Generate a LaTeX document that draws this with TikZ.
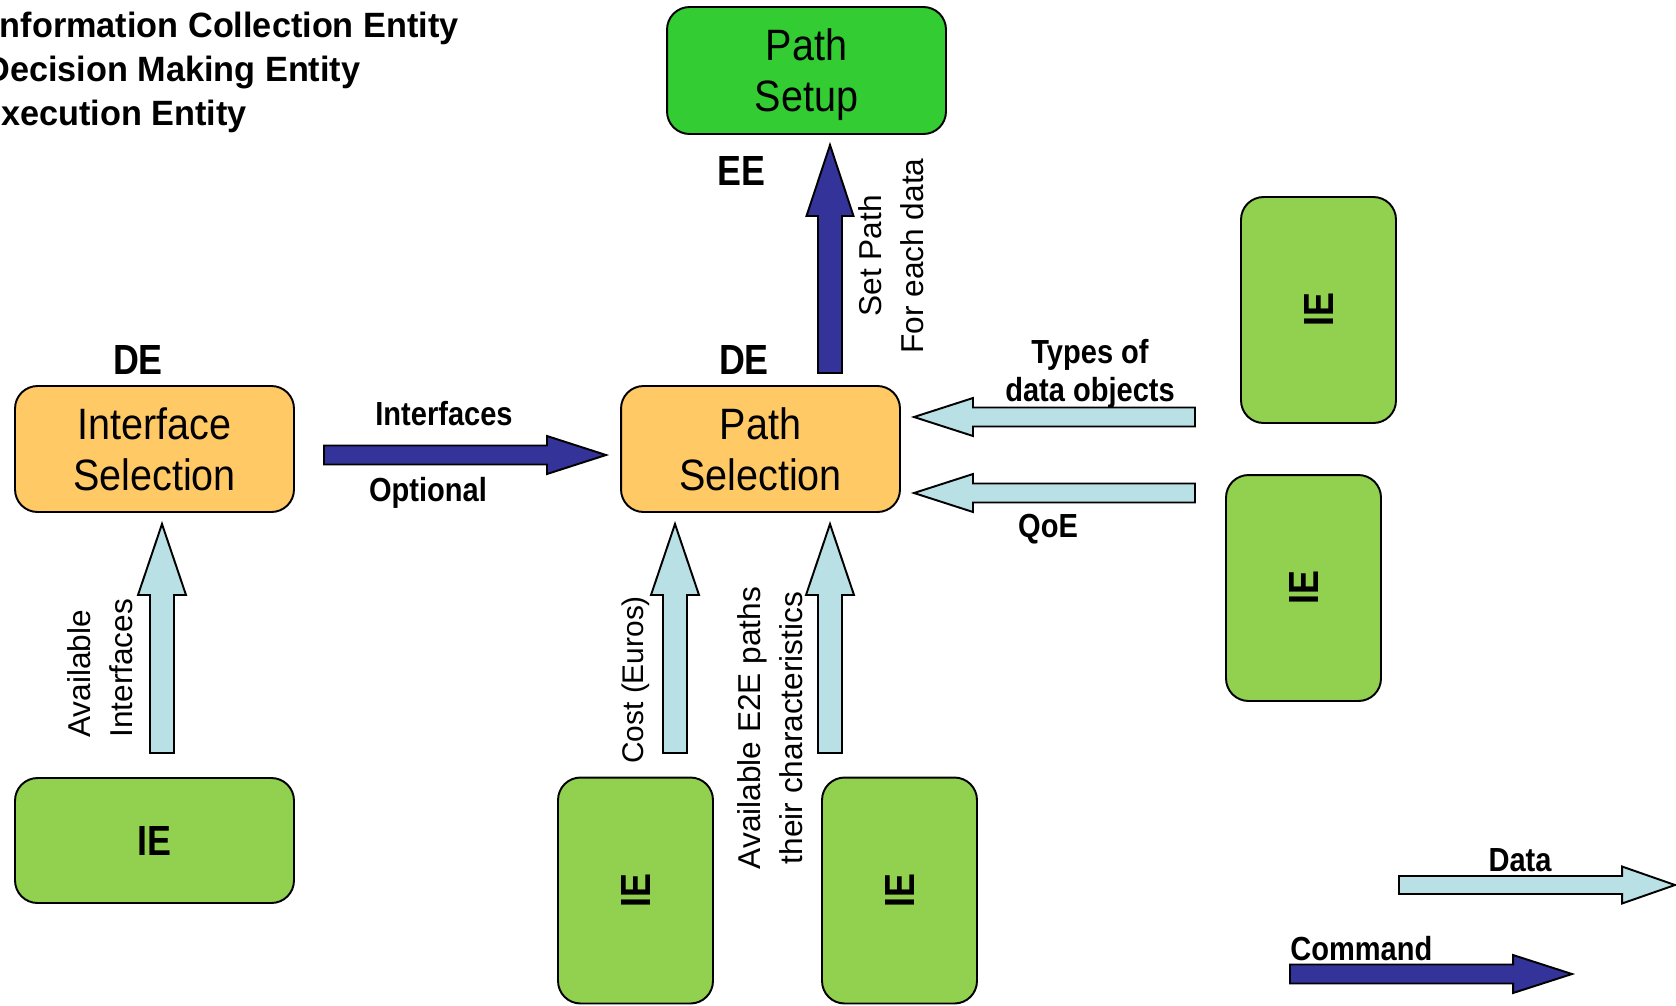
\documentclass[tikz,border=0pt]{standalone}
\usepackage{fontspec}
\setmainfont{Liberation Sans}
\newfontfamily\boxfont[FakeStretch=0.9]{Liberation Sans}
\newfontfamily\lblfont[FakeStretch=0.87]{Liberation Sans}
\newfontfamily\tagfont[FakeStretch=0.85]{Liberation Sans}
\newfontfamily\titlefont[FakeStretch=0.975]{Liberation Sans}
\usetikzlibrary{calc}

\definecolor{selorange}{HTML}{FFC966}
\definecolor{setupgreen}{HTML}{33CC33}
\definecolor{iegreen}{HTML}{92D050}
\definecolor{datablue}{HTML}{B9E0E4}
\definecolor{cmdblue}{HTML}{333399}

% block arrow: [style]{tail}{tip}{shaft half width}{head half width}{head length}
\newcommand{\blockarrow}[6][]{%
  \coordinate (bahead) at ($(#3)!#6!(#2)$);
  \draw[#1] ($(#2)!#4!90:(#3)$) -- ($(bahead)!#4!-90:(#2)$) -- ($(bahead)!#5!-90:(#2)$)
    -- (#3) -- ($(bahead)!#5!90:(#2)$) -- ($(bahead)!#4!90:(#2)$) -- ($(#2)!#4!-90:(#3)$) -- cycle;}

\begin{document}
\begin{tikzpicture}[x=0.02cm, y=-0.02cm,
  box/.style={draw=black, line width=1.1pt, rounded corners=0.45cm, inner sep=0pt, align=center},
  selbox/.style={box, fill=selorange, minimum width=5.58cm, minimum height=2.52cm,
    text depth=0pt, font=\boxfont\fontsize{25}{29}\selectfont},
  setupbox/.style={box, fill=setupgreen, minimum width=5.58cm, minimum height=2.54cm,
    text depth=0pt, font=\boxfont\fontsize{25}{29}\selectfont},
  iewide/.style={box, fill=iegreen, minimum width=5.58cm, minimum height=2.5cm,
    font=\tagfont\bfseries\fontsize{24}{28}\selectfont},
  ietall/.style={box, fill=iegreen, minimum width=3.1cm, minimum height=4.52cm,
    font=\tagfont\bfseries\fontsize{24}{28}\selectfont},
  tag/.style={inner sep=0pt, font=\tagfont\bfseries\fontsize{24}{28}\selectfont},
  title/.style={inner sep=0pt, font=\titlefont\bfseries\fontsize{20}{24}\selectfont},
  lbl/.style={inner sep=0pt, align=center, font=\lblfont\bfseries\fontsize{19}{21.5}\selectfont},
  vlbl/.style={inner sep=0pt, rotate=90, font=\fontsize{18}{23.6}\selectfont},
  dataarrow/.style={draw=black, line width=1.1pt, fill=datablue, line join=miter},
  cmdarrow/.style={draw=black, line width=1.1pt, fill=cmdblue, line join=miter}]
\useasboundingbox (0,0) rectangle (1676,1005);

% legend of entity abbreviations (first letters run past the left edge)
\node[title, anchor=base west] (t1) at (-10,37) {Information Collection Entity};
\node[title, anchor=base west] (t2) at (-15,81) {Decision Making Entity};
\node[title, anchor=base west] (t3) at (-22,125) {Execution Entity};

% entities
\node[selbox] (isel) at (154.5,449) {Interface\\Selection};
\node[selbox] (psel) at (760.5,449) {Path\\Selection};
\node[setupbox] (pset) at (806.5,70.5) {Path\\Setup};
\node[iewide] (ie1) at (154.5,840.5) {IE};
\node[ietall] (ie2) at (635.5,890.5) {\rotatebox{90}{IE}};
\node[ietall] (ie3) at (899.5,890.5) {\rotatebox{90}{IE}};
\node[ietall] (ie4) at (1318.5,310) {\rotatebox{90}{IE}};
\node[ietall] (ie5) at (1303.5,588) {\rotatebox{90}{IE}};

\node[tag, anchor=base] (de1) at (138,374) {DE};
\node[tag, anchor=base] (de2) at (744,374) {DE};
\node[tag, anchor=base] (ee) at (741,185) {EE};

% arrow end points
\coordinate (availtail) at (162,753);  \coordinate (availtip) at (162,524);
\coordinate (costtail) at (675,753);   \coordinate (costtip) at (675,524);
\coordinate (e2etail) at (830,753);    \coordinate (e2etip) at (830,524);
\coordinate (settail) at (830,373);    \coordinate (settip) at (830,145);
\coordinate (typestail) at (1195,417); \coordinate (typestip) at (914,417);
\coordinate (qoetail) at (1195,493);   \coordinate (qoetip) at (914,493);
\coordinate (iftail) at (324,455);     \coordinate (iftip) at (606,455);
\coordinate (datatail) at (1399,885);  \coordinate (datatip) at (1675,885);
\coordinate (cmdtail) at (1290,974);   \coordinate (cmdtip) at (1572,974);

% data flows
\blockarrow[dataarrow]{availtail}{availtip}{0.24cm}{0.48cm}{1.42cm}
\blockarrow[dataarrow]{costtail}{costtip}{0.24cm}{0.48cm}{1.42cm}
\blockarrow[dataarrow]{e2etail}{e2etip}{0.24cm}{0.48cm}{1.42cm}
\blockarrow[dataarrow]{typestail}{typestip}{0.19cm}{0.38cm}{1.18cm}
\blockarrow[dataarrow]{qoetail}{qoetip}{0.19cm}{0.38cm}{1.18cm}
% commands
\blockarrow[cmdarrow]{settail}{settip}{0.24cm}{0.47cm}{1.42cm}
\blockarrow[cmdarrow]{iftail}{iftip}{0.19cm}{0.38cm}{1.18cm}
% key
\blockarrow[dataarrow]{datatail}{datatip}{0.18cm}{0.37cm}{1.06cm}
\blockarrow[cmdarrow]{cmdtail}{cmdtip}{0.19cm}{0.38cm}{1.18cm}

% flow labels
\node[lbl, anchor=base] (lif) at (444,425) {Interfaces};
\node[lbl, anchor=base] (lopt) at (428,501) {Optional};
\node[lbl] (ltypes) at (1090,374) {Types of\\data objects};
\node[lbl, anchor=base] (lqoe) at (1048,537) {QoE};
\node[lbl, anchor=base] (ldata) at (1520,871) {Data};
\node[lbl, anchor=base west] (lcmd) at (1290,960) {Command};

\node[vlbl, anchor=west, align=left] (lavail) at (100,738) {Available\\Interfaces};
\node[vlbl, anchor=west, font=\fontsize{17}{20}\selectfont] (lcost) at (636,764) {Cost (Euros)};
\node[vlbl, align=center] (le2e) at (770,728) {Available E2E paths\\their characteristics};
\node[vlbl, align=center] (lset) at (891,256) {Set Path\\For each data};
\end{tikzpicture}
\end{document}
